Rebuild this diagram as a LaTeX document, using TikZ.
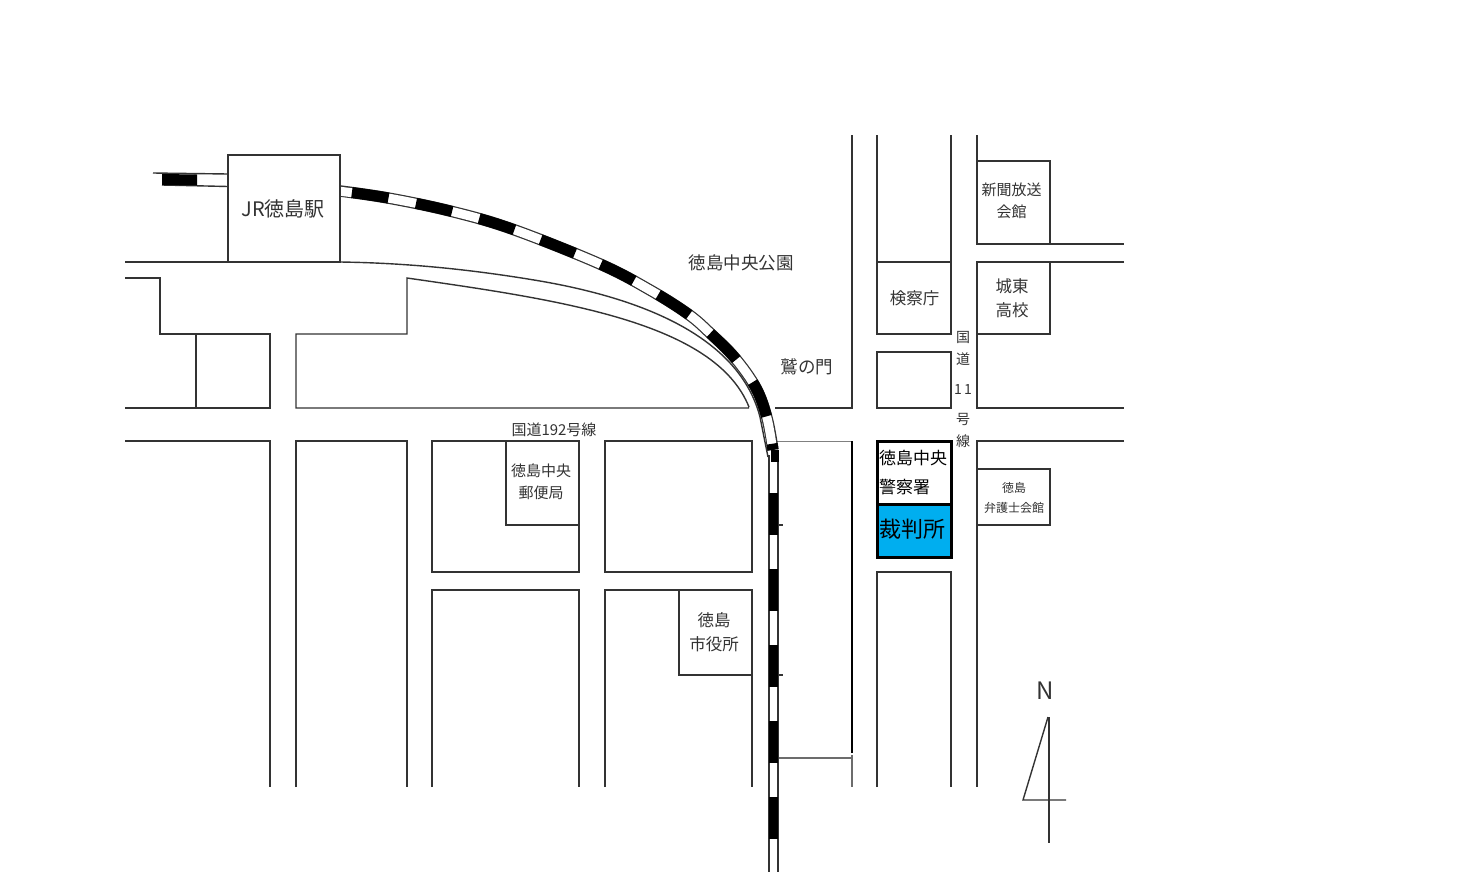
\documentclass[tikz,border=0pt]{standalone}
\usepackage{fontspec}
\setmainfont{Noto Sans CJK JP}
\definecolor{ink}{HTML}{333333}
\definecolor{court}{HTML}{00AEEF}
\tikzset{
  road/.style={draw=ink,line width=1.4pt,line join=miter},
  heavy/.style={draw=black,line width=3pt},
  lbl/.style={inner sep=0pt,align=center,text=ink},
  lblk/.style={inner sep=0pt,align=left,text=black},
}
\newcommand{\fs}[2]{\fontsize{#1}{#2}\selectfont}
\newcommand{\railcurve}{plot[smooth,tension=0.6] coordinates {(340,191) (388,198) (450,211) (512,229) (600,264) (650,290) (688,314) (710,333) (735,358) (756,388) (767,418) (773,450)}}
\begin{document}
\begin{tikzpicture}[x=1pt,y=-1pt]
\useasboundingbox (0,0) rectangle (1478,873);
% --- roads and blocks, left
\draw[road] (125,262) -- (228,262);
\draw[road] (125,278) -- (160,278) -- (160,334) -- (270,334) -- (270,408) -- (125,408);
\draw[road] (196,334) -- (196,408);
\draw[road] (125,441) -- (270,441) -- (270,787);
\draw[road] (296,787) -- (296,441) -- (407,441) -- (407,787);
\draw[road] (749,408) -- (296,408) -- (296,334) -- (407,334) -- (407,278)
  .. controls (560,300) and (715,322) .. (749,407);
\draw[road] (775,408) -- (852,408) -- (852,135);
\draw[road] (340,262) .. controls (410,263) and (475,270) .. (540,281)
  .. controls (650,300) and (740,340) .. (760,417) -- (768,457);
% --- blocks, centre
\draw[road] (432,441) rectangle (579,572);
\draw[road] (605,441) rectangle (752,572);
\draw[road] (432,787) -- (432,590) -- (579,590) -- (579,787);
\draw[road] (605,787) -- (605,590) -- (752,590) -- (752,787);
\draw[road] (506,441) -- (506,525) -- (579,525);
\draw[road] (679,590) -- (679,675) -- (752,675);
% --- block east of the railway
\draw[draw=gray,line width=1pt] (775,441) -- (852,441);
\draw[draw=black,line width=2pt] (852,441) -- (852,753);
\draw[draw=gray!85!black,line width=2pt] (778,758) -- (852,758);
\draw[draw=gray!85!black,line width=1.6pt] (852,755) -- (852,787);
\draw[road] (778,525) -- (783,525);
\draw[road] (778,675) -- (783,675);
% --- right columns
\draw[road] (877,135) -- (877,334) -- (951,334) -- (951,135);
\draw[road] (877,262) -- (951,262);
\draw[road] (877,352) rectangle (951,408);
\draw[road] (877,787) -- (877,572) -- (951,572) -- (951,787);
\draw[road] (977,135) -- (977,244) -- (1124,244);
\draw[road] (977,161) -- (1050,161) -- (1050,244);
\draw[road] (1124,262) -- (977,262) -- (977,408) -- (1124,408);
\draw[road] (977,334) -- (1050,334) -- (1050,262);
\draw[road] (1124,441) -- (977,441) -- (977,787);
\draw[road] (977,469) -- (1050,469) -- (1050,525) -- (977,525);
% --- railway curve
\draw[ink,line width=11.5pt] \railcurve;
\draw[white,line width=9pt] plot[smooth,tension=0.6] coordinates {(338,191) (388,198) (450,211) (512,229) (600,264) (650,290) (688,314) (710,333) (735,358) (756,388) (767,418) (773,452)};
\draw[black,line width=11pt,dash pattern=on 37pt off 28pt,dash phase=-12pt] \railcurve;
% --- railway straight south
\draw[road] (769,455) -- (769,872);
\draw[road] (778,450) -- (778,872);
\draw[black,line width=8pt] (775,450) -- (775,462);
\draw[black,line width=9pt,dash pattern=on 42pt off 34pt] (773.5,493) -- (773.5,840);
% --- railway west of the station
\draw[road] (153,173) -- (228,174);
\draw[road] (162,185) -- (228,186.5);
\fill[black] (162,174) -- (197,174.5) -- (197,185.5) -- (162,185) -- cycle;
% --- station
\node[draw=ink,line width=1.4pt,fill=white,minimum width=112pt,minimum height=107pt,inner sep=0pt] (station) at (284,208.5) {};
\node[lbl,font=\fs{20}{24}] (stationlbl) at (283,209) {JR徳島駅};
% --- police and court
\node[heavy,fill=white,minimum width=74pt,minimum height=63pt,inner sep=0pt] (police) at (914,472.5) {};
\node[heavy,fill=court,minimum width=74pt,minimum height=53pt,inner sep=0pt] (courthouse) at (914,530.5) {};
\node[lblk,font=\fs{17}{29},anchor=west] (policelbl) at (879,472.5) {徳島中央\\警察署};
\node[lblk,font=\fs{22}{26},anchor=west] (courtlbl) at (879,529) {裁判所};
% --- labels
\node[lbl,font=\fs{17.5}{21}] (park) at (741,263) {徳島中央公園};
\node[lbl,font=\fs{17.5}{21}] (washi) at (807,367) {鷲の門};
\node[lbl,font=\fs{15}{18}] (r192) at (554,430) {国道192号線};
\node[lbl,font=\fs{15}{22}] (post) at (541,482) {徳島中央\\郵便局};
\node[lbl,font=\fs{16.5}{24}] (city) at (714,632) {徳島\\市役所};
\node[lbl,font=\fs{16.5}{20}] (prosecutor) at (914.5,298) {検察庁};
\node[lbl,font=\fs{15}{22}] (press) at (1011.5,201) {新聞放送\\会館};
\node[lbl,font=\fs{16.5}{24}] (school) at (1012,298) {城東\\高校};
\node[lbl,font=\fs{12}{20}] (bar) at (1014,497.5) {徳島\\弁護士会館};
\node[lbl,font=\fs{14}{16}] (r11a) at (963,337) {国};
\node[lbl,font=\fs{14}{16}] (r11b) at (963,359) {道};
\node[lbl,font=\fs{14}{16}] (r11c) at (963,390) {1\,1};
\node[lbl,font=\fs{14}{16}] (r11d) at (963,419) {号};
\node[lbl,font=\fs{14}{16}] (r11e) at (963,441) {線};
% --- north mark
\node[lbl,font=\fs{24}{28}] (north) at (1045,691) {N};
\coordinate (napex) at (1048,717);
\coordinate (nleft) at (1023,800);
\coordinate (nright) at (1066,800);
\coordinate (ntop) at (1049,717);
\coordinate (nbottom) at (1049,843);
\draw[road] (napex) -- (nleft) -- (nright);
\draw[road] (ntop) -- (nbottom);
\end{tikzpicture}
\end{document}
